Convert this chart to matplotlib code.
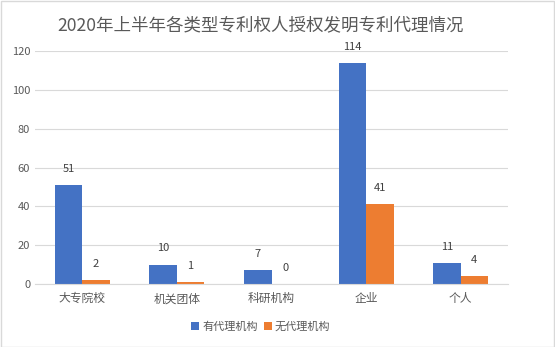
import numpy as np
import matplotlib
matplotlib.use("Agg")
import matplotlib.pyplot as plt

plt.rcParams["font.family"] = ["Noto Sans CJK SC", "DejaVu Sans"]

categories = ["大专院校", "机关团体", "科研机构", "企业", "个人"]
with_agent = [51, 10, 7, 114, 11]
without_agent = [2, 1, 0, 41, 4]
series_names = ["有代理机构", "无代理机构"]
title = "2020年上半年各类型专利权人授权发明专利代理情况"

blue = "#4472C4"
orange = "#ED7D31"
grey = "#595959"

fig = plt.figure(figsize=(5.55, 3.47), dpi=100)
ax = fig.add_axes([35 / 555, 1 - 284 / 347, (508 - 35) / 555, (284 - 51) / 347])

x = np.arange(len(categories))
w = 0.29
b1 = ax.bar(x - w / 2, with_agent, w, color=blue, label=series_names[0])
b2 = ax.bar(x + w / 2, without_agent, w, color=orange, label=series_names[1])

for bars in (b1, b2):
    for bar in bars:
        ax.annotate(str(int(bar.get_height())),
                    (bar.get_x() + bar.get_width() / 2, bar.get_height()),
                    xytext=(0, 8), textcoords="offset points",
                    ha="center", va="bottom", fontsize=8, color="#404040")

ax.set_xlim(-0.5, len(categories) - 0.5)
ax.set_ylim(0, 120)
ax.set_yticks(range(0, 121, 20))
ax.yaxis.grid(True, color="#D9D9D9", linewidth=0.8)
ax.set_axisbelow(True)
ax.set_xticks(x)
ax.set_xticklabels(categories, fontsize=8.5)
ax.tick_params(axis="both", length=0, colors=grey)
ax.tick_params(axis="y", labelsize=8)
ax.tick_params(axis="x", pad=6)
for s in ["top", "right", "left"]:
    ax.spines[s].set_visible(False)
ax.spines["bottom"].set_color("#D9D9D9")

fig.suptitle(title, x=261 / 555, y=0.952, fontsize=12.6, color=grey)
fig.legend(loc="center", bbox_to_anchor=(261 / 555, 1 - 327 / 347), ncol=2,
           frameon=False, fontsize=8, handlelength=0.7, handleheight=0.7,
           columnspacing=0.5, handletextpad=0.3, labelcolor=grey)

border = plt.Rectangle((0.001, 0.001), 0.997, 0.996, transform=fig.transFigure,
                       fill=False, edgecolor="#D9D9D9", linewidth=1)
fig.patches.append(border)

fig.savefig("out.png", dpi=100)
